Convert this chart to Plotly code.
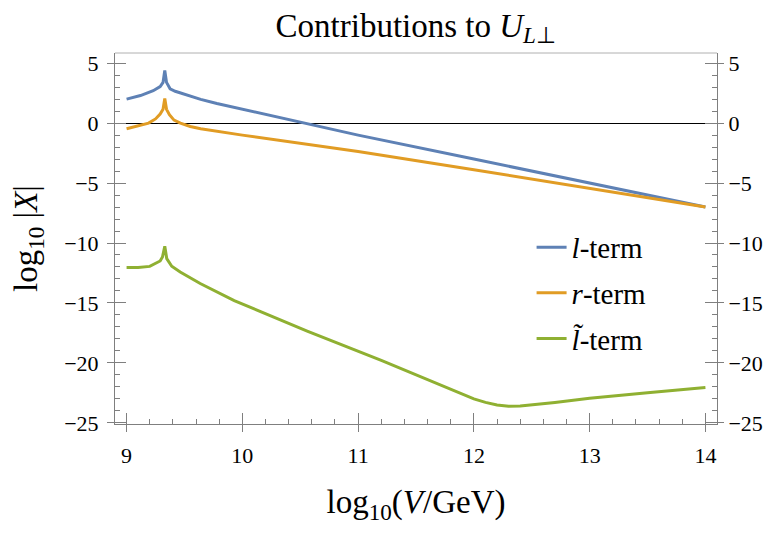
import plotly.graph_objects as go

# values (log10 V/GeV  vs  log10|X|)
x_l = [9.0, 9.12, 9.23, 9.29, 9.315, 9.33, 9.345, 9.376, 9.42, 9.47, 9.55, 9.64,
       9.78, 9.93, 10.2, 10.5, 11.0, 12.0, 13.0, 14.0]
y_l = [2.0, 2.3, 2.7, 3.05, 3.4, 4.4, 3.4, 2.86, 2.66, 2.5, 2.24, 1.98,
       1.64, 1.32, 0.74, 0.1, -1.0, -3.0, -5.0, -7.0]

x_r = [9.0, 9.1, 9.19, 9.25, 9.29, 9.315, 9.33, 9.345, 9.37, 9.41, 9.465, 9.55,
       9.64, 10.0, 10.5, 11.0, 12.0, 13.0, 14.0]
y_r = [-0.47, -0.22, 0.0, 0.35, 0.75, 1.15, 2.05, 1.15, 0.7, 0.25, 0.0, -0.28,
       -0.47, -1.0, -1.66, -2.37, -3.89, -5.44, -7.0]

x_lt = [9.0, 9.1, 9.2, 9.25, 9.29, 9.31, 9.33, 9.347, 9.39, 9.463, 9.578, 9.636,
        9.93, 10.22, 10.56, 11.2, 11.6, 11.9, 12.0, 12.1, 12.2, 12.3, 12.4,
        12.7, 13.0, 13.5, 14.0]
y_lt = [-12.05, -12.05, -11.95, -11.72, -11.5, -11.17, -10.28, -11.3, -11.94,
        -12.42, -13.05, -13.38, -14.8, -16.0, -17.35, -19.8, -21.4, -22.6,
        -23.0, -23.3, -23.52, -23.62, -23.6, -23.3, -22.95, -22.5, -22.05]

names = ["<i>l</i>-term", "<i>r</i>-term", "<i>l\u0303</i>-term"]
colors = ["#5E81B5", "#E19C24", "#8FB032"]

y_ticks = [5, 0, -5, -10, -15, -20, -25]
y_tick_text = ["5", "0", "\u22125", "\u221210", "\u221215", "\u221220", "\u221225"]
x_ticks = [9, 10, 11, 12, 13, 14]

FONT = "Liberation Serif"
GRAY = "#7f7f7f"
tick_font = dict(family=FONT, size=22, color="black")

fig = go.Figure()
for xs, ys, nm, c in zip([x_l, x_r, x_lt], [y_l, y_r, y_lt], names, colors):
    fig.add_trace(go.Scatter(x=xs, y=ys, mode="lines", name=nm, legendgroup=nm,
                             line=dict(color=c, width=3)))

# empty traces so the extra tick axes get drawn
for xa, ya in [("x", "y2"), ("x", "y3"), ("x", "y4"), ("x2", "y")]:
    fig.add_trace(go.Scatter(x=[None], y=[None], xaxis=xa, yaxis=ya,
                             mode="lines", showlegend=False, hoverinfo="skip"))

xr = [8.9, 14.1]
yr = [-25.1, 5.85]

fig.update_layout(
    width=765, height=526,
    margin=dict(l=107, r=56, t=45, b=110),
    plot_bgcolor="white", paper_bgcolor="white",
    font=dict(family=FONT, size=22, color="black"),
    title=dict(text="Contributions to <i>U</i><sub><i>L</i>\u22a5</sub>",
               x=0.533, xanchor="center", y=0.9677, yanchor="middle",
               font=dict(family=FONT, size=33, color="black")),
    showlegend=True,
    legend=dict(x=0.692, xanchor="left", y=0.545, yanchor="top",
                bgcolor="rgba(0,0,0,0)",
                font=dict(family=FONT, size=29, color="black"),
                tracegroupgap=5),
    xaxis=dict(range=xr, showgrid=False, zeroline=False, showline=True,
               linecolor=GRAY, ticks="outside", ticklen=7, tickcolor=GRAY,
               tickvals=x_ticks, tickfont=tick_font, ticklabelstandoff=5,
               automargin=False,
               minor=dict(ticks="inside", ticklen=5, dtick=0.2, tick0=9,
                          tickcolor=GRAY, showgrid=False),
               title=dict(text="log<sub>10</sub>(<i>V</i>/GeV)",
                          font=dict(family=FONT, size=33, color="black"),
                          standoff=22)),
    xaxis2=dict(range=xr, overlaying="x", anchor="y", side="bottom",
                showgrid=False, zeroline=False, showline=False,
                automargin=False,
                ticks="inside", ticklen=11, tickcolor=GRAY,
                tickvals=x_ticks, showticklabels=False),
    yaxis=dict(range=yr, showgrid=False, zeroline=True, zerolinecolor="black",
               zerolinewidth=1, showline=True, linecolor=GRAY,
               ticks="outside", ticklen=7, tickcolor=GRAY,
               tickvals=y_ticks, ticktext=y_tick_text, tickfont=tick_font,
               ticklabelstandoff=4, automargin=False,
               minor=dict(ticks="inside", ticklen=5, dtick=1, tick0=0,
                          tickcolor=GRAY, showgrid=False),
               title=dict(text="log<sub>10</sub> |<i>X</i>|",
                          font=dict(family=FONT, size=33, color="black"),
                          standoff=26)),
    yaxis2=dict(range=yr, overlaying="y", anchor="x", side="right",
                showgrid=False, zeroline=False, showline=True, linecolor=GRAY,
                ticks="outside", ticklen=6, tickcolor=GRAY,
                tickvals=y_ticks, ticktext=y_tick_text, tickfont=tick_font,
                automargin=False,
                minor=dict(ticks="inside", ticklen=5, dtick=1, tick0=0,
                           tickcolor=GRAY, showgrid=False)),
    yaxis3=dict(range=yr, overlaying="y", anchor="x", side="left",
                showgrid=False, zeroline=False, showline=False,
                automargin=False,
                ticks="inside", ticklen=11, tickcolor=GRAY,
                tickvals=y_ticks, showticklabels=False),
    yaxis4=dict(range=yr, overlaying="y", anchor="x", side="right",
                showgrid=False, zeroline=False, showline=False,
                automargin=False,
                ticks="inside", ticklen=12, tickcolor=GRAY,
                tickvals=y_ticks, showticklabels=False),
)

# lighter top edge of the frame
fig.add_shape(type="line", xref="paper", yref="paper", x0=0, x1=1, y0=1, y1=1,
              line=dict(color="#b0b0b0", width=1))

fig.write_html("out.html")
